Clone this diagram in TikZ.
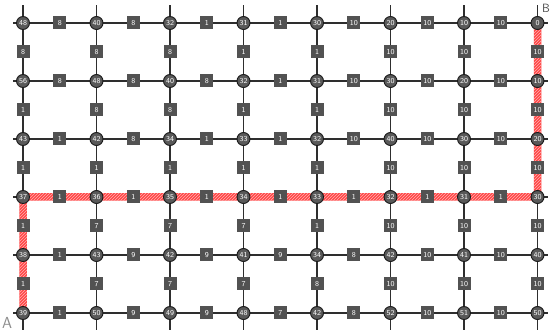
\documentclass[tikz,border=0pt]{standalone}
\usetikzlibrary{patterns}

\pgfdeclarelayer{lines}
\pgfdeclarelayer{route}
\pgfsetlayers{lines,route,main}

\begin{document}
\begin{tikzpicture}[
    x=1pt, y=-1pt,
    font=\sffamily\fontsize{7.5}{8}\selectfont,
    vtx/.style={circle, draw=black!90, line width=0.9pt, fill=black!65, text=white, inner sep=0pt, minimum size=13pt},
    wt/.style={rectangle, fill=black!68, text=white, inner sep=0pt, minimum width=13pt, minimum height=13pt},
    gridline/.style={draw=black!82, line width=1.6pt},
    route/.style={fill=red!72, postaction={pattern=north east lines, pattern color=red!30}},
    endlabel/.style={text=black!45, font=\sffamily\fontsize{16}{16}\selectfont, inner sep=0pt}
]

    % canvas
    \useasboundingbox (0,0) rectangle (551,336);

    % --- Vertices (row by row, top to bottom) ---
    \foreach \vals [count=\r] in {{48,40,32,31,30,20,10,0},
                                  {56,48,40,32,31,30,20,10},
                                  {43,42,34,33,32,40,30,20},
                                  {37,36,35,34,33,32,31,30},
                                  {38,43,42,41,34,42,41,40},
                                  {39,50,49,48,42,52,51,50}}
        \foreach \v [count=\c] in \vals
            \node[vtx] (n\r-\c) at ({23+73.5*(\c-1)}, {23+58*(\r-1)}) {\v};

    % --- Horizontal edges ---
    \foreach \ws [count=\r] in {{8,8,1,1,10,10,10},
                                {8,8,8,1,10,10,10},
                                {1,8,1,1,10,10,10},
                                {1,1,1,1,1,1,1},
                                {1,9,9,9,8,10,10},
                                {1,9,9,7,8,10,10}}
        \foreach \w [count=\c] in \ws {
            \pgfmathtruncatemacro{\cn}{\c+1}
            \begin{pgfonlayer}{lines}
                \draw[gridline] (n\r-\c) -- (n\r-\cn);
            \end{pgfonlayer}
            \path (n\r-\c) -- node[wt] {\w} (n\r-\cn);
        }

    % --- Vertical edges ---
    \foreach \ws [count=\r] in {{8,8,8,1,1,10,10,10},
                                {1,8,8,1,1,10,10,10},
                                {1,1,1,1,1,10,10,10},
                                {1,7,7,7,1,10,10,10},
                                {1,7,7,7,8,10,10,10}}
        \foreach \w [count=\c] in \ws {
            \pgfmathtruncatemacro{\rn}{\r+1}
            \begin{pgfonlayer}{lines}
                \draw[gridline] (n\r-\c) -- (n\rn-\c);
            \end{pgfonlayer}
            \path (n\r-\c) -- node[wt] {\w} (n\rn-\c);
        }

    % --- Open ends of the grid ---
    \begin{pgfonlayer}{lines}
        \foreach \c in {1,...,8} {
            \path (n1-\c) ++(0,-18) coordinate (top\c);
            \path (n6-\c) ++(0,17) coordinate (bot\c);
            \draw[gridline] (n1-\c) -- (top\c);
            \draw[gridline] (n6-\c) -- (bot\c);
        }
        \foreach \r in {1,...,6} {
            \path (n\r-1) ++(-10,0) coordinate (left\r);
            \path (n\r-8) ++(10,0) coordinate (right\r);
            \draw[gridline] (n\r-1) -- (left\r);
            \draw[gridline] (n\r-8) -- (right\r);
        }
    \end{pgfonlayer}

    % --- Route from A to B ---
    \begin{pgfonlayer}{route}
        \fill[route] ([xshift=-3.75pt]n6-1.center)
            -- ([xshift=-3.75pt, yshift=3.75pt]n4-1.center)
            -- ([xshift=-3.75pt, yshift=3.75pt]n4-8.center)
            -- ([xshift=-3.75pt]n1-8.center)
            -- ([xshift=3.75pt]n1-8.center)
            -- ([xshift=3.75pt, yshift=-3.75pt]n4-8.center)
            -- ([xshift=3.75pt, yshift=-3.75pt]n4-1.center)
            -- ([xshift=3.75pt]n6-1.center) -- cycle;
    \end{pgfonlayer}

    \node[endlabel] (lblA) at (7,323) {A};
    \node[endlabel, text=black!70, font=\sffamily\fontsize{12}{12}\selectfont] (lblB) at (546,8) {B};

\end{tikzpicture}
\end{document}
